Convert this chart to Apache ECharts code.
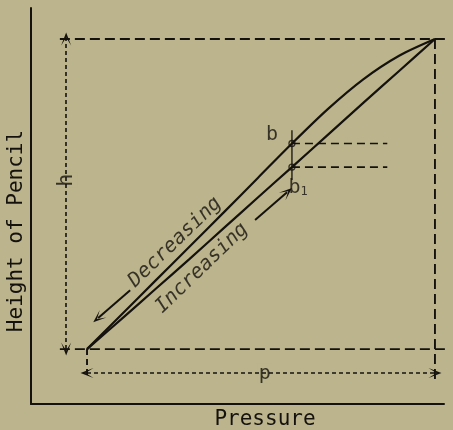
<!DOCTYPE html>
<html>
<head>
<meta charset="utf-8">
<script src="https://cdn.jsdelivr.net/npm/echarts@6/dist/echarts.min.js"></script>
<style>
  html, body { margin: 0; padding: 0; background: #bcb48c; }
  #chart { width: 453px; height: 430px; }
</style>
</head>
<body>
<div id="chart"></div>
<script>
// Pencil height against pressure, both as percent of the full stroke.
const pressure         = [0, 9.8, 19.6, 29.5, 39.3, 49.1, 58.9, 69.2, 79.4, 89.7, 100];
const heightDecreasing = [0, 11.0, 22.0, 33.1, 44.1, 55.2, 66.3, 77.4, 87.0, 94.6, 100];
const heightIncreasing = [0, 9.6, 19.3, 29.1, 39.0, 48.9, 58.7, 69.1, 79.4, 89.7, 100];

// Index of the pressure where the two readings b and b1 are taken.
const bIndex = 6;

// Construction lines (data units).
const frameTop    = [[-7.8, 100], [105, 100]];
const frameBottom = [[-7.8, 0], [103.4, 0]];
const frameRight  = [[100, 100], [100, -10]];
const startTick   = [[0, 0], [0, -9.4]];
const readingEnd  = 86.3;
const stemTop     = 70.6;
const stemBottom  = 54.5;

// Dimension arrows and direction arrows.
const hArrow   = [[-6, 0], [-6, 100]];
const pArrow   = [[0, -7.7], [100, -7.7]];
const decArrow = [[12.4, 19.0], [3.2, 10.0]];
const incArrow = [[48.3, 41.6], [57.5, 50.6]];

// Text annotations.
const notes = [
  { name: 'h', value: [-6, 54.5], rotate: 90 },
  { name: 'p', value: [51.1, -7.9], rotate: 0 },
  { name: 'b', value: [53.2, 69.0], rotate: 0 },
  { name: 'b1', value: [60.7, 52.0], rotate: 0 },
  { name: 'Decreasing', value: [25.3, 34.5], rotate: 44 },
  { name: 'Increasing', value: [33.0, 26.1], rotate: 44 }
];

const INK = '#15120e';
const PAPER = '#bcb48c';
const FONT = 'DejaVu Sans Mono';
const DART = 'path://M5,0 L10,13 L5,5 L0,13 Z';

const zip = (xs, ys) => xs.map((x, i) => [x, ys[i]]);
const bx = pressure[bIndex];
const bTop = heightDecreasing[bIndex];
const bLow = heightIncreasing[bIndex];

function dashed(data, dash, width) {
  return {
    type: 'line', data, clip: false, symbol: 'none', silent: true,
    lineStyle: { color: INK, width: width || 1.9, type: dash }
  };
}

function arrow(pts, both) {
  return [{ coord: pts[0], symbol: both ? DART : 'none' }, { coord: pts[1], symbol: DART }];
}

const chart = echarts.init(document.getElementById('chart'), null, { renderer: 'canvas' });
chart.setOption({
  animation: false,
  backgroundColor: PAPER,
  grid: { left: 31, right: 9, top: 8, bottom: 26, outerBoundsMode: 'none', containLabel: false },
  xAxis: {
    type: 'value', min: -16.1, max: 102.6,
    axisLine: { onZero: false, lineStyle: { color: INK, width: 2 } },
    axisTick: { show: false }, axisLabel: { show: false }, splitLine: { show: false },
    name: 'Pressure', nameLocation: 'middle', nameGap: 5,
    nameTextStyle: { color: INK, fontFamily: FONT, fontSize: 21, padding: [0, 0, 0, 55] }
  },
  yAxis: {
    type: 'value', min: -17.7, max: 110,
    axisLine: { onZero: false, lineStyle: { color: INK, width: 2 } },
    axisTick: { show: false }, axisLabel: { show: false }, splitLine: { show: false },
    name: 'Height of Pencil', nameLocation: 'middle', nameGap: 4, nameRotate: 90,
    nameTextStyle: { color: INK, fontFamily: FONT, fontSize: 21, padding: [0, 50, 0, 0] }
  },
  series: [
    dashed(frameTop, [10, 5]),
    dashed(frameBottom, [10, 5]),
    dashed(frameRight, [10, 5]),
    dashed(startTick, [6, 4]),
    dashed([[bx, bTop], [readingEnd, bTop]], [8, 5], 1.6),
    dashed([[bx, bLow], [readingEnd, bLow]], [8, 5], 1.6),
    {
      type: 'line', data: [[bx, stemTop], [bx, stemBottom]], symbol: 'none', silent: true,
      lineStyle: { color: INK, width: 1.3 }
    },
    {
      name: 'Decreasing', type: 'line', data: zip(pressure, heightDecreasing),
      smooth: 0.3, symbol: 'none', lineStyle: { color: INK, width: 2.2 }
    },
    {
      name: 'Increasing', type: 'line', data: zip(pressure, heightIncreasing),
      smooth: 0.3, symbol: 'none', lineStyle: { color: INK, width: 2.2 }
    },
    {
      type: 'line', data: [], silent: true,
      markLine: {
        silent: true, symbolSize: [10, 13], label: { show: false },
        lineStyle: { color: INK, width: 1.6, type: [4, 3] },
        data: [arrow(hArrow, true), arrow(pArrow, true)]
      }
    },
    {
      type: 'line', data: [], silent: true,
      markLine: {
        silent: true, symbolSize: [10, 13], label: { show: false },
        lineStyle: { color: INK, width: 2, type: 'solid' },
        data: [arrow(decArrow, false), arrow(incArrow, false)]
      }
    },
    {
      type: 'scatter', silent: true, symbol: 'circle', symbolSize: 6,
      itemStyle: { color: PAPER, borderColor: INK, borderWidth: 1.3 },
      data: [[bx, bTop], [bx, bLow]]
    },
    {
      type: 'scatter', silent: true, symbolSize: 0,
      data: notes.map(n => ({
        name: n.name, value: n.value,
        label: {
          show: true, position: 'inside', rotate: n.rotate,
          formatter: n.name === 'b1' ? 'b{s|1}' : '{b}',
          color: INK, fontFamily: FONT, fontSize: n.name === 'h' ? 22 : 20,
          fontStyle: n.name.length > 2 ? 'oblique' : 'normal',
          backgroundColor: (n.name === 'h' || n.name === 'p') ? PAPER : 'transparent',
          padding: [0, 1],
          rich: { s: { color: INK, fontFamily: FONT, fontSize: 12, padding: [8, 0, 0, 0] } }
        }
      }))
    }
  ]
});
</script>
</body>
</html>
